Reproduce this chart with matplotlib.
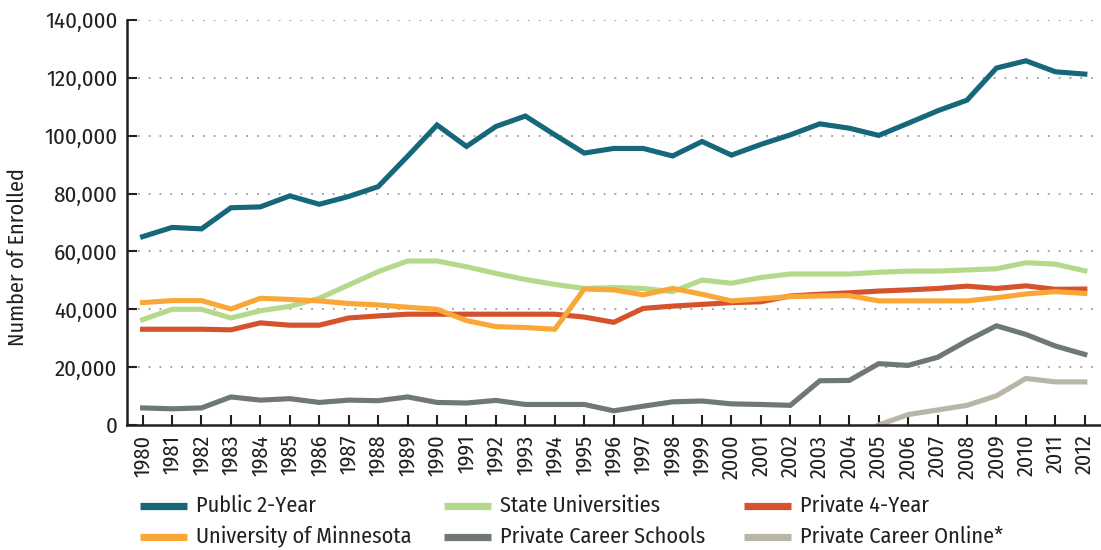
# Enrollment by sector, 1980-2012
import matplotlib
matplotlib.use("Agg")
import matplotlib.pyplot as plt
from matplotlib.lines import Line2D
from matplotlib.ticker import FuncFormatter, MultipleLocator

plt.rcParams['font.family'] = ['Fira Sans Condensed', 'DejaVu Sans']
plt.rcParams['font.weight'] = 'normal'

years = list(range(1980, 2013))

public_2yr = [65100, 68300, 67800, 75100, 75400, 79200, 76300, 79000, 82400, 92900,
              103700, 96300, 103200, 106800, 100300, 94000, 95600, 95600, 93000, 98000,
              93300, 97000, 100300, 104100, 102600, 100100, 104300, 108600, 112300, 123400,
              125900, 122100, 121300]
state_univ = [36400, 40000, 40000, 37000, 39500, 41000, 43800, 48400, 53000, 56700,
              56700, 54700, 52400, 50300, 48600, 47200, 47500, 47200, 46100, 50100,
              49000, 51000, 52200, 52200, 52200, 52800, 53200, 53200, 53600, 54000,
              56100, 55600, 53300]
private_4yr = [33100, 33100, 33100, 32900, 35300, 34500, 34500, 37000, 37700, 38300,
               38300, 38300, 38300, 38300, 38300, 37300, 35500, 40300, 41100, 41700,
               42300, 42600, 44600, 45200, 45700, 46300, 46700, 47200, 48000, 47200,
               48100, 46900, 47000]
u_minnesota = [42300, 43000, 43000, 40100, 43800, 43400, 42900, 42000, 41500, 40700,
               40000, 36100, 34000, 33700, 33100, 47000, 46700, 45000, 47200, 45200,
               42900, 43600, 44400, 44600, 44700, 42900, 42900, 42900, 42900, 44000,
               45300, 46100, 45500]
career_schools = [5900, 5600, 5900, 9700, 8600, 9100, 7800, 8600, 8400, 9700,
                  7800, 7600, 8500, 7100, 7100, 7100, 4900, 6500, 8000, 8300,
                  7300, 7100, 6800, 15300, 15400, 21200, 20600, 23400, 29100, 34300,
                  31300, 27300, 24400]
online_years = list(range(2005, 2013))
career_online = [0, 3600, 5200, 6800, 10100, 16100, 14900, 14900]

series = [
    ("Public 2-Year", years, public_2yr, "#17677b"),
    ("State Universities", years, state_univ, "#b5d98b"),
    ("Private 4-Year", years, private_4yr, "#d5522d"),
    ("University of Minnesota", years, u_minnesota, "#f9a837"),
    ("Private Career Schools", years, career_schools, "#6f7874"),
    ("Private Career Online*", online_years, career_online, "#b9b5a7"),
]

dark = "#231f20"
fig = plt.figure(figsize=(11.01, 5.5), dpi=100)
ax = fig.add_axes([127 / 1101, 1 - 425 / 550, 974 / 1101, 405 / 550])

# dotted grid lines
for v in range(20000, 140001, 20000):
    ax.axhline(v, color="#9a9a9a", lw=1.3, ls=(0, (1, 5)), zorder=0)

for name, xs, ys, col in series:
    ax.plot(xs, ys, color=col, lw=3.7, solid_joinstyle="miter", label=name)

ax.set_xlim(1979.47, 2012.55)
ax.set_ylim(0, 140000)
ax.set_xticks(years)
ax.set_xticklabels([str(y) for y in years], rotation=90)
ax.yaxis.set_major_locator(MultipleLocator(20000))
ax.yaxis.set_major_formatter(FuncFormatter(lambda v, p: f"{int(v):,}"))

for s in ["top", "right"]:
    ax.spines[s].set_visible(False)
for s in ["left", "bottom"]:
    ax.spines[s].set_color(dark)
    ax.spines[s].set_linewidth(1.8)
ax.tick_params(direction="in", length=7, width=1.5, color=dark, labelcolor=dark)
ax.tick_params(axis="y", pad=7, labelsize=16.5)
ax.tick_params(axis="x", pad=7, labelsize=16)

fig.text(18 / 1101, 1 - 257 / 550, "Number of Enrolled", fontsize=16, color=dark,
         rotation=90, ha="center", va="center")

# legend, 3 columns x 2 rows
col_x = [140, 444, 744]
row_y = [506, 537]
for i, (name, xs, ys, col) in enumerate(series):
    cx = col_x[i % 3]
    ry = 1 - row_y[i // 3] / 550
    fig.add_artist(Line2D([cx / 1101, (cx + 47) / 1101], [ry, ry], color=col, lw=5.2,
                          solid_capstyle="butt", transform=fig.transFigure))
    fig.text((cx + 56) / 1101, ry, name, fontsize=16, color=dark, va="center", ha="left")

fig.savefig("out.png", dpi=100)
